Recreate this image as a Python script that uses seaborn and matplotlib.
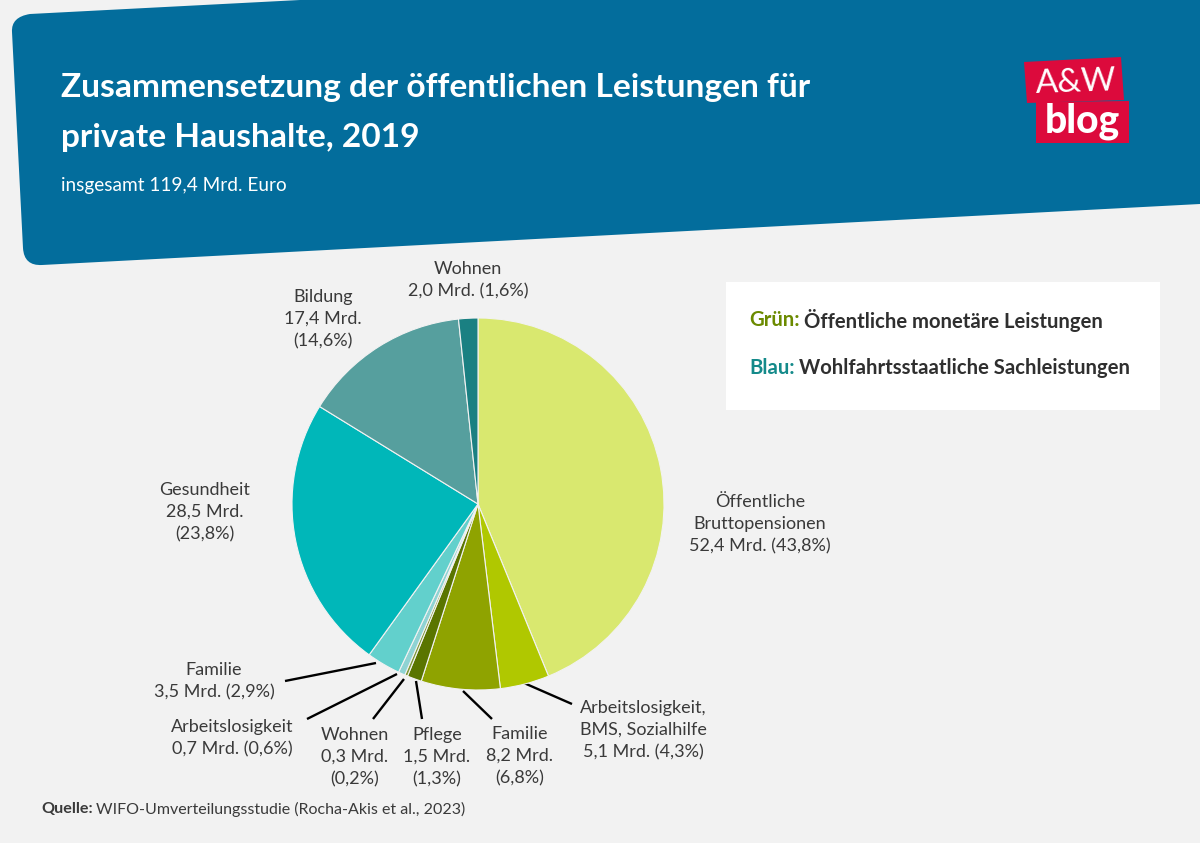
import matplotlib
matplotlib.use("Agg")
import matplotlib.pyplot as plt
from matplotlib.path import Path
from matplotlib.patches import PathPatch, Polygon, Rectangle
import seaborn as sns

categories = ["Öffentliche Bruttopensionen", "Arbeitslosigkeit, BMS, Sozialhilfe", "Familie", "Pflege",
              "Wohnen", "Arbeitslosigkeit", "Familie", "Gesundheit", "Bildung", "Wohnen"]
values = [52.4, 5.1, 8.2, 1.5, 0.3, 0.7, 3.5, 28.5, 17.4, 2.0]
colors = ["#d9e86f", "#b0c800", "#8fa300", "#5a7500", "#7f9a3a", "#8fd3d3",
          "#62d0cc", "#00b7b9", "#569f9e", "#1a8082"]
labels = ["Öffentliche\nBruttopensionen\n52,4 Mrd. (43,8%)", "Arbeitslosigkeit,\nBMS, Sozialhilfe\n5,1 Mrd. (4,3%)",
          "Familie\n8,2 Mrd.\n(6,8%)", "Pflege\n1,5 Mrd.\n(1,3%)", "Wohnen\n0,3 Mrd.\n(0,2%)",
          "Arbeitslosigkeit\n0,7 Mrd. (0,6%)", "Familie\n3,5 Mrd. (2,9%)", "Gesundheit\n28,5 Mrd.\n(23,8%)",
          "Bildung\n17,4 Mrd.\n(14,6%)", "Wohnen\n2,0 Mrd. (1,6%)"]
label_pos = [(760, 524), (643, 730), (520, 756), (437, 757), (355, 757),
             (232, 738), (214, 681), (205, 512), (323, 319), (468, 280)]
leaders = [None, ((524, 683), (572, 704)), ((463, 691), (492, 719)), ((416, 681), (422, 719)),
           ((404, 679), (373, 719)), ((397, 674), (307, 719)), ((376, 663), (285, 681)), None, None, None]

sns.set_theme(style="white")
BG = "#f2f2f2"
BLUE = "#036d9c"
DARK = "#3a3a3a"
RED = "#dc0a3c"
FONT = "Lato"

fig = plt.figure(figsize=(12, 8.43), dpi=100, facecolor=BG)
bg = fig.add_axes([0, 0, 1, 1], zorder=0)
bg.set_xlim(0, 1200)
bg.set_ylim(843, 0)
bg.axis("off")

# header shape with rounded corners
verts = [(12, 32), (11, 17), (30, 14), (300, 0), (1200, 0), (1200, 204), (42, 265), (24, 266), (23, 248), (12, 32)]
codes = [Path.MOVETO, Path.CURVE3, Path.CURVE3, Path.LINETO, Path.LINETO, Path.LINETO,
         Path.LINETO, Path.CURVE3, Path.CURVE3, Path.CLOSEPOLY]
bg.add_patch(PathPatch(Path(verts, codes), facecolor=BLUE, edgecolor="none"))

bg.text(61, 87, "Zusammensetzung der öffentlichen Leistungen für", color="white", fontsize=24.1,
        fontweight="bold", family=FONT, va="center")
bg.text(61, 137, "private Haushalte, 2019", color="white", fontsize=24.1,
        fontweight="bold", family=FONT, va="center")
bg.text(61, 186, "insgesamt 119,4 Mrd. Euro", color="white", fontsize=13.7, family=FONT, va="center")

# logo
bg.add_patch(Polygon([(1024, 62), (1121, 57), (1124, 100), (1027, 103)], facecolor=RED, edgecolor="none"))
bg.add_patch(Polygon([(1036, 102), (1129, 101), (1129, 143), (1036, 143)], facecolor=RED, edgecolor="none"))
bg.text(1076, 83, "A&W", color="white", fontsize=24, family=FONT, ha="center", va="center", rotation=2)
bg.text(1082, 121, "blog", color="white", fontsize=28, fontweight="black", family=FONT, ha="center", va="center")

# legend box
bg.add_patch(Rectangle((726, 282), 434, 128, facecolor="white", edgecolor="none"))
renderer = fig.canvas.get_renderer()
def pair(y, head, head_color, rest):
    t = bg.text(749, y, head, color=head_color, fontsize=14.6, fontweight="bold", family=FONT, va="center")
    w = t.get_window_extent(renderer).width
    bg.text(749 + w + 4, y, rest, color="#2f2f2f", fontsize=14.6, fontweight="bold", family=FONT, va="center")
pair(320, "Grün:", "#6b8a00", "Öffentliche monetäre Leistungen")
pair(368, "Blau:", "#148a8a", "Wohlfahrtsstaatliche Sachleistungen")

# pie
cx, cy, r = 478, 504, 186
ax = fig.add_axes([(cx - r) / 1200, 1 - (cy + r) / 843, 2 * r / 1200, 2 * r / 843], zorder=1)
ax.pie(values, colors=sns.color_palette(colors), startangle=90, counterclock=False, radius=1,
       wedgeprops=dict(edgecolor="#f2f2f2", linewidth=0.8))
ax.set_xlim(-1, 1)
ax.set_ylim(-1, 1)

for lab, (x, y), ld in zip(labels, label_pos, leaders):
    bg.text(x, y, lab, ha="center", va="center", color=DARK, fontsize=13, family=FONT, linespacing=1.45)
    if ld:
        bg.plot([ld[0][0], ld[1][0]], [ld[0][1], ld[1][1]], color="black", lw=1.7, solid_capstyle="butt")

bf = bg.text(41, 809, "Quelle:", color=DARK, fontsize=11.6, fontweight="bold", family=FONT, va="center")
w = bf.get_window_extent(renderer).width
bg.text(41 + w + 3, 809, "WIFO-Umverteilungsstudie (Rocha-Akis et al., 2023)", color=DARK, fontsize=11.5,
        family=FONT, va="center")

fig.savefig("out.png", dpi=100, facecolor=BG)
